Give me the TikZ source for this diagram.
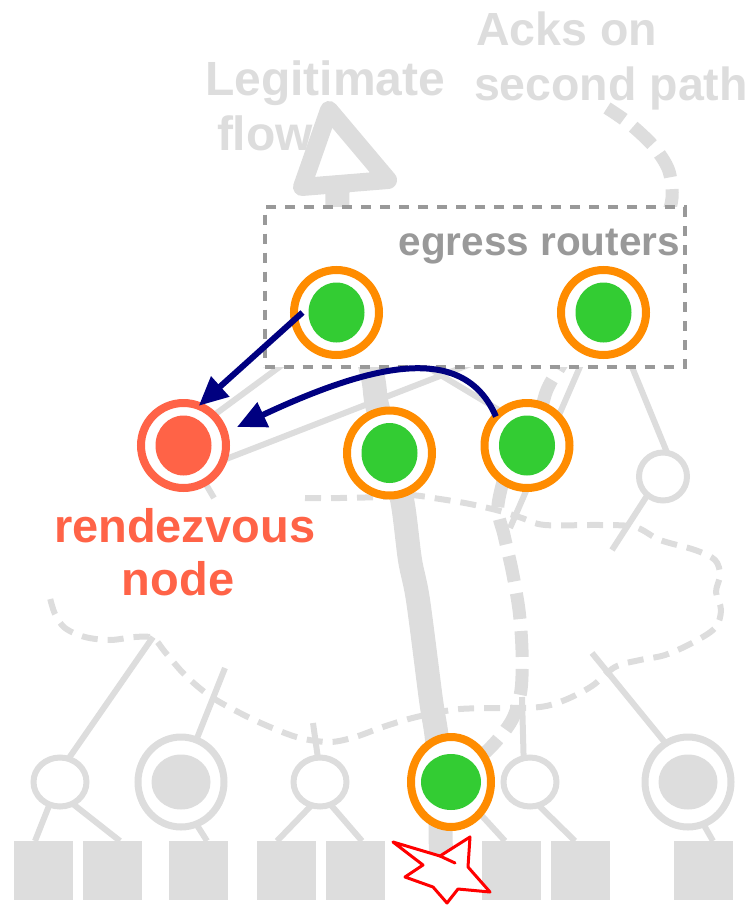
\documentclass[tikz,border=0pt]{standalone}
\usepackage{fontspec}
\setmainfont{Liberation Sans}
\usetikzlibrary{arrows.meta,calc,shapes.geometric}
\definecolor{netgray}{RGB}{221,221,221}
\definecolor{boxgray}{RGB}{153,153,153}
\definecolor{ringorange}{RGB}{255,140,0}
\definecolor{hostgreen}{RGB}{51,204,51}
\definecolor{rvred}{RGB}{255,99,71}
\definecolor{arrownavy}{RGB}{0,0,128}
\definecolor{starred}{RGB}{255,0,0}
\pgfdeclarelayer{bg}
\pgfsetlayers{bg,main}
\begin{document}
\begin{tikzpicture}[x=1pt, y=-1pt,
  every node/.style={inner sep=0pt, outer sep=0pt},
  ringnode/.style={circle, line width=8pt, fill=white, minimum size=85pt},
  router/.style={ringnode, draw=ringorange,
    path picture={\fill[hostgreen] (path picture bounding box.center) ellipse [x radius=28pt, y radius=30pt];}},
  rendezvous/.style={ringnode, draw=rvred,
    path picture={\fill[rvred] (path picture bounding box.center) ellipse [x radius=28pt, y radius=30pt];}},
  hostring/.style={ellipse, draw=ringorange, line width=8pt, fill=white, minimum width=80pt, minimum height=90pt,
    path picture={\fill[hostgreen] (path picture bounding box.center) ellipse [x radius=30pt, y radius=28pt];}},
  grayhost/.style={ellipse, draw=netgray, line width=7pt, fill=white, minimum width=86pt, minimum height=90pt,
    path picture={\fill[netgray] (path picture bounding box.center) ellipse [x radius=29.5pt, y radius=27.5pt];}},
  grayrouter/.style={ellipse, draw=netgray, line width=6pt, fill=white, minimum width=53pt, minimum height=49pt},
  leaf/.style={rectangle, fill=netgray, minimum width=59pt, minimum height=59pt},
  link/.style={draw=netgray, line width=6pt},
  cloudline/.style={draw=netgray, line width=6pt, dash pattern=on 16pt off 10pt},
  flowline/.style={draw=netgray, line width=24pt},
  ackline/.style={draw=netgray, line width=13pt, dash pattern=on 26pt off 12pt},
  navyarrow/.style={draw=arrownavy, line width=6pt, -{Triangle[length=29pt, width=26pt]}},
  graylabel/.style={text=netgray, font=\bfseries\fontsize{48}{53}\selectfont},
  acklabel/.style={text=netgray, font=\bfseries\fontsize{46.5}{53}\selectfont},
  egresslabel/.style={text=boxgray, font=\bfseries\fontsize{40.5}{46}\selectfont},
  rvlabel/.style={text=rvred, font=\bfseries\fontsize{47}{53}\selectfont}
]
\useasboundingbox (0,0) rectangle (753,905);

% ---- labels at the top
\node[graylabel, anchor=base west] (legit1) at (205,95) {Legitimate};
\node[graylabel, anchor=base west] (legit2) at (217,150) {flow};
\node[acklabel, anchor=base west] (acks1) at (476,45) {Acks on};
\node[acklabel, anchor=base west] (acks2) at (474,100) {second path};

% ---- egress region
\node[draw=boxgray, line width=4pt, dash pattern=on 10pt off 9pt, fill=white,
      minimum width=420pt, minimum height=159.5pt] (egress) at (474.5,286.75) {};
\node[egresslabel, anchor=base east] (egresstext) at (680,255) {egress routers};

% ---- routers and hosts
\node[router] (r1) at (336.5,312.5) {};
\node[router] (r2) at (603.5,312.5) {};
\node[router] (mid) at (389.5,453) {};
\node[router] (n4) at (527,445.5) {};
\node[rendezvous] (rv) at (183.5,445.5) {};
\node[rvlabel, anchor=base west] (rvlabel1) at (54,542) {rendezvous};
\node[rvlabel, anchor=base] (rvlabel2) at (178,595) {node};
\node[circle, draw=netgray, line width=6pt, fill=white, minimum size=48pt] (sc) at (663,476.5) {};

\node[grayrouter] (c1) at (60,782) {};
\node[grayhost] (b2) at (181,782) {};
\node[grayrouter] (c3) at (320,782) {};
\node[hostring] (g) at (451,782) {};
\node[grayrouter] (c4) at (530,782) {};
\node[grayhost] (b5) at (688,782) {};

\node[leaf] (sq1) at (43,870.5) {};
\node[leaf] (sq2) at (112.5,870.5) {};
\node[leaf] (sq3) at (198,870.5) {};
\node[leaf] (sq4) at (286.5,870.5) {};
\node[leaf] (sq5) at (355.5,870.5) {};
\node[leaf] (sq6) at (511,870.5) {};
\node[leaf] (sq7) at (580.5,870.5) {};
\node[leaf] (sq8) at (703.5,870.5) {};

% cloud junction points
\coordinate (j1) at (153,637);
\coordinate (j2) at (225,668);
\coordinate (j3) at (313,723);
\coordinate (j4) at (522,697);
\coordinate (j5) at (592,653);
\coordinate (j6) at (612,550);
\coordinate (j7) at (510,528);
\coordinate (j8) at (214,498);

\begin{pgfonlayer}{bg}
  % network core boundary
  \draw[cloudline] plot[smooth, tension=0.55] coordinates {
    (305,498) (340,498) (380,497) (410,495) (440,499) (470,504) (500,511) (522,518)
    (545,525) (600,525) (635,527) (660,540) (695,550) (715,560) (720,575) (716,592)
    (721,610) (715,628) (692,643) (665,655) (640,660) (615,667) (592,686) (565,700)
    (540,707) (500,708) (460,709) (430,714) (405,720) (380,728) (355,737) (330,742)
    (300,738) (270,727) (240,713) (210,696) (185,675) (165,652) (153,638) (135,637)
    (110,640) (85,637) (65,628) (55,614) (50,598)};

  % links
  \draw[link] (rv.45) -- (r1.-130);
  \draw[link] (rv.-20) -- (r2);
  \draw[link] (rv.-60) -- (j8);
  \draw[link] (r1) -- (n4.127);
  \draw[link] (r2) -- (j7);
  \draw[link] (r2.-60) -- (sc.80);
  \draw[link] (sc.-130) -- (j6);
  \draw[link] (c1.70) -- (j1);
  \draw[link] (b2.70) -- (j2);
  \draw[link] (c3.95) -- (j3);
  \draw[link] (c4.105) -- (j4);
  \draw[link] (b5.120) -- (j5);
  \draw[link] (c1.-115) -- ($(sq1.north)+(-8,0)$);
  \draw[link] (c1.-60) -- ($(sq2.north)+(7.5,0)$);
  \draw[link] (b2.-70) -- ($(sq3.north)+(9,0)$);
  \draw[link] (c3.-110) -- ($(sq4.north)+(-9.5,0)$);
  \draw[link] (c3.-65) -- ($(sq5.north)+(6.5,0)$);
  \draw[link] (g) -- ($(sq6.north)+(-6,0)$);
  \draw[link] (c4.-70) -- ($(sq7.north)+(-5.5,0)$);
  \draw[link] (b5.-70) -- ($(sq8.north)+(9.5,0)$);

  % legitimate flow
  \draw[flowline] plot[smooth, tension=0.5] coordinates {
    (441,868) (440,800) (437,740) (431,700) (418,600) (410,560) (403,505)
    (392,455) (377,405) (372,373) (350,290) (338,215) (338,186)};
  \draw[draw=netgray, line width=18pt, line join=round] (302,187) -- (329,110) -- (388,180) -- cycle;

  % acks on the second path
  \draw[ackline] plot[smooth, tension=0.5] coordinates {
    (451,782) (490,748) (512,720) (521,690) (522,650) (519,610) (512,570) (504,535)
    (498,505) (512,455) (540,410) (552,380) (610,290) (667,215) (670,175) (655,148)
    (630,124) (607,108)};
\end{pgfonlayer}

% attack origin
\draw[starred, line width=3pt, fill=white, line join=round]
  (393,842) -- (440,856) -- (470,837) -- (468,867) -- (490,892) -- (458,889)
  -- (447,903) -- (433,887) -- (405,877) -- (423,865) -- cycle;
\draw[starred, line width=3pt, line cap=round] (440,856) -- (455,863);

% requests toward the rendezvous node
\coordinate (rvtip) at (237,427);
\draw[navyarrow] ($(r1)+(-34,0)$) -- (rv.69);
\draw[navyarrow] (n4.137) .. controls (465,345) and (380,360) .. (rvtip);
\end{tikzpicture}
\end{document}
